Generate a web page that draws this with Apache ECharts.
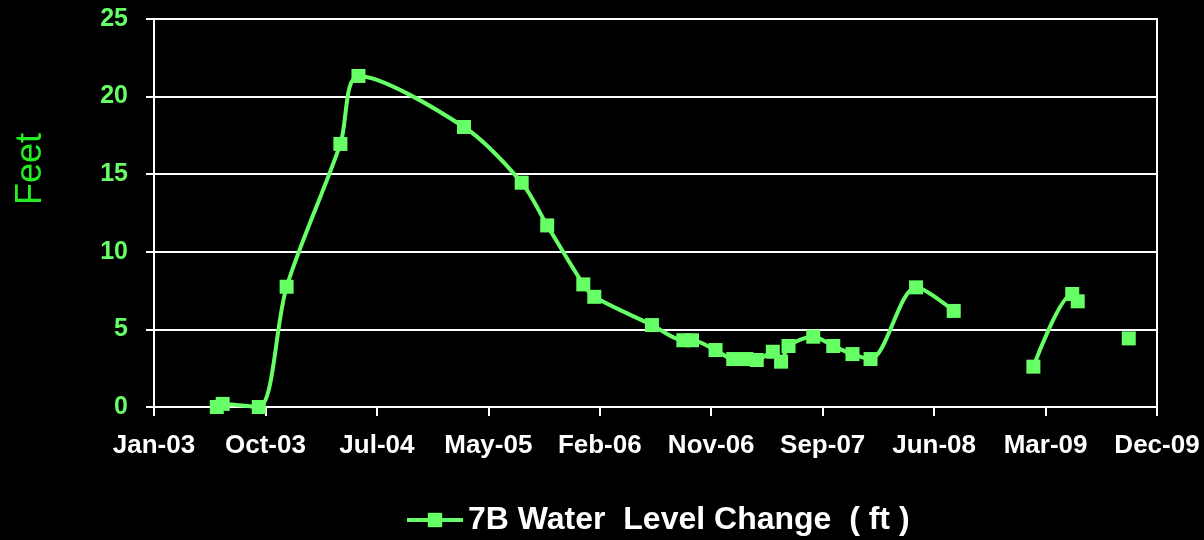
<!DOCTYPE html>
<html><head><meta charset="utf-8">
<script src="https://cdn.jsdelivr.net/npm/echarts/dist/echarts.min.js"></script>
<style>html,body{margin:0;padding:0;background:#000}#c{width:1204px;height:540px}</style>
</head><body><div id="c"></div>
<script>
// ---- data ----
const seriesName = '7B Water  Level Change  ( ft )';
const sampleDates = [
  '2003-06-10','2003-06-25','2003-09-25','2003-12-05','2004-04-20','2004-06-05',
  '2005-03-01','2005-07-26','2005-09-29','2005-12-30','2006-01-27','2006-06-23',
  '2006-09-11','2006-10-03','2006-12-02','2007-01-16','2007-02-19','2007-03-17',
  '2007-04-27','2007-05-18','2007-06-06','2007-08-08','2007-09-28','2007-11-16',
  '2008-01-01','2008-04-26','2008-07-31','2008-10-15','2009-02-19','2009-05-29',
  '2009-06-12','2009-08-15','2009-10-20'
];
const levelFeet = [
  0.0, 0.2, 0.0, 7.75, 16.95, 21.33,
  18.04, 14.45, 11.7, 7.9, 7.1, 5.28,
  4.3, 4.3, 3.67, 3.09, 3.09, 3.03,
  3.56, 2.92, 3.93, 4.53, 3.93, 3.41,
  3.09, 7.71, 6.19, null, 2.6, 7.28,
  6.81, null, 4.42
];
const axisStartDate = '2003-01-01';
const axisEndDate = '2009-12-31';
const tickStepDays = 284;
const yTicks = [0, 5, 10, 15, 20, 25];
const monthNames = ['Jan','Feb','Mar','Apr','May','Jun','Jul','Aug','Sep','Oct','Nov','Dec'];

// ---- helpers ----
const DAY = 86400000;
function parseUTC(s){ const p = s.split('-').map(Number); return Date.UTC(p[0], p[1]-1, p[2]); }
const t0 = parseUTC(axisStartDate);
function dayOffset(s){ return Math.round((parseUTC(s) - t0) / DAY); }
function fmtDay(d){
  const dt = new Date(t0 + d * DAY);
  return monthNames[dt.getUTCMonth()] + '-' + String(dt.getUTCFullYear() % 100).padStart(2,'0');
}
const points = sampleDates.map((d, i) => [dayOffset(d), levelFeet[i] === null ? '-' : levelFeet[i]]);

const GREEN = '#66ff66';
const FONT = '"Liberation Sans", Arial, sans-serif';

const chart = echarts.init(document.getElementById('c'), null, {renderer: 'canvas'});
chart.setOption({
  backgroundColor: '#000',
  animation: false,
  grid: {
    left: 154, right: 47, top: 19, bottom: 133,
    show: true, borderColor: '#fff', borderWidth: 2, backgroundColor: 'transparent'
  },
  xAxis: {
    type: 'value',
    min: 0,
    max: dayOffset(axisEndDate),
    interval: tickStepDays,
    axisLine: {show: true, lineStyle: {color: '#fff', width: 2}},
    axisTick: {show: true, inside: false, length: 9, lineStyle: {color: '#fff', width: 2}},
    splitLine: {show: false},
    axisLabel: {
      color: '#fff', fontFamily: FONT, fontWeight: 'bold', fontSize: 26, margin: 26,
      formatter: v => fmtDay(v)
    }
  },
  yAxis: {
    type: 'value',
    min: yTicks[0], max: yTicks[yTicks.length-1], interval: yTicks[1]-yTicks[0],
    axisLine: {show: true, lineStyle: {color: '#fff', width: 2}},
    axisTick: {show: true, inside: false, length: 8, lineStyle: {color: '#fff', width: 2}},
    splitLine: {show: true, lineStyle: {color: '#fff', width: 2}},
    axisLabel: {color: GREEN, fontFamily: FONT, fontWeight: 'bold', fontSize: 25, margin: 26}
  },
  legend: {
    show: true,
    left: 400, top: 499,
    itemWidth: 56, itemHeight: 18, itemGap: 6,
    lineStyle: {width: 4, color: GREEN},
    itemStyle: {color: GREEN},
    textStyle: {color: '#fff', fontFamily: FONT, fontWeight: 'bold', fontSize: 32},
    data: [seriesName]
  },
  graphic: [{
    type: 'text', x: 31, y: 169, rotation: Math.PI / 2,
    style: {text: 'Feet', fill: '#22ee22', font: '36px ' + FONT, align: 'center', verticalAlign: 'middle'}
  }],
  series: [{
    name: seriesName,
    type: 'line',
    data: points,
    smooth: 0.3,
    connectNulls: false,
    showAllSymbol: true,
    symbol: 'rect',
    symbolSize: 14,
    lineStyle: {color: GREEN, width: 4},
    itemStyle: {color: GREEN},
    clip: true
  }]
});
</script>
</body></html>
